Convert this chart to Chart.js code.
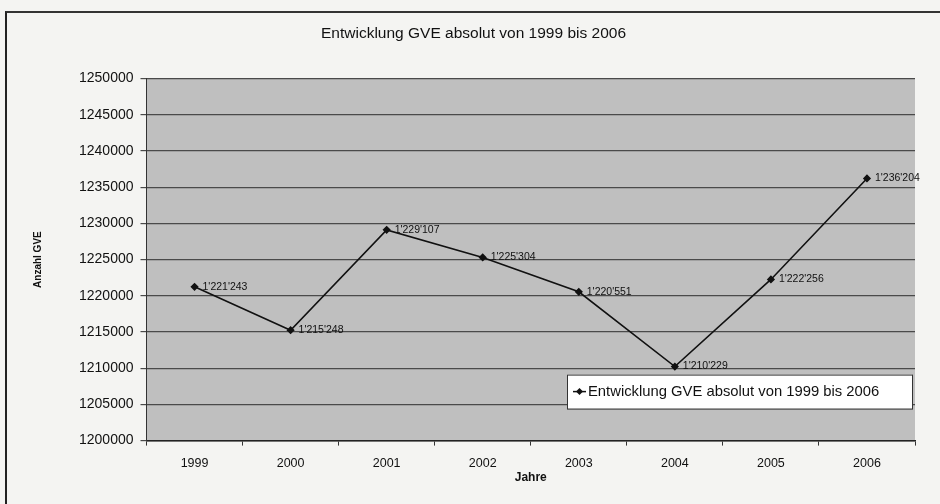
<!DOCTYPE html>
<html>
<head>
<meta charset="utf-8">
<script src="https://cdn.jsdelivr.net/npm/chart.js@4/dist/chart.umd.min.js"></script>
<style>
  html, body { margin: 0; padding: 0; background: #f4f4f2; }
  #wrap { position: relative; width: 940px; height: 504px; }
  #frame { position: absolute; left: 5px; top: 11px; width: 940px; height: 500px;
           border-left: 2px solid #222; border-top: 2px solid #333; box-sizing: border-box; }
  canvas { position: absolute; left: 0; top: 0; }
</style>
</head>
<body>
<div id="wrap">
  <div id="frame"></div>
  <canvas id="c" width="940" height="504"></canvas>
</div>
<script>
// Livestock units (GVE) per year
const years = ['1999', '2000', '2001', '2002', '2003', '2004', '2005', '2006'];
const gve = [1221243, 1215248, 1229107, 1225304, 1220551, 1210229, 1222256, 1236204];
const valueLabels = ["1'221'243", "1'215'248", "1'229'107", "1'225'304", "1'220'551", "1'210'229", "1'222'256", "1'236'204"];
const seriesName = 'Entwicklung GVE absolut von 1999 bis 2006';
const chartTitle = 'Entwicklung GVE absolut von 1999 bis 2006';
const yTitle = 'Anzahl GVE';
const xTitle = 'Jahre';
const yMin = 1200000, yMax = 1250000, yStep = 5000;

const FONT = '"Liberation Sans", Arial, sans-serif';

// grey plot background
const plotBg = {
  id: 'plotBg',
  beforeDraw(chart) {
    const { ctx, chartArea: a } = chart;
    ctx.save();
    ctx.fillStyle = '#bfbfbf';
    ctx.fillRect(a.left, a.top, a.right - a.left, a.bottom - a.top);
    ctx.restore();
  }
};

// value labels to the right of each point
const pointLabels = {
  id: 'pointLabels',
  afterDatasetsDraw(chart) {
    const { ctx } = chart;
    const meta = chart.getDatasetMeta(0);
    ctx.save();
    ctx.font = '10.5px ' + FONT;
    ctx.fillStyle = '#111';
    ctx.textBaseline = 'middle';
    ctx.textAlign = 'left';
    meta.data.forEach((pt, i) => {
      ctx.fillText(valueLabels[i], pt.x + 8, pt.y);
    });
    ctx.restore();
  }
};

// legend box drawn inside the lower right of the plot
const insideLegend = {
  id: 'insideLegend',
  afterDraw(chart) {
    const { ctx, chartArea: a } = chart;
    const ds = chart.data.datasets[0];
    const w = 345, h = 34;
    const x = a.right - 3 - w, y = a.bottom - 32 - h;
    ctx.save();
    ctx.fillStyle = '#ffffff';
    ctx.fillRect(x, y, w, h);
    ctx.strokeStyle = '#333';
    ctx.lineWidth = 1;
    ctx.strokeRect(x + 0.5, y + 0.5, w, h);
    const cy = y + h / 2;
    ctx.strokeStyle = '#111';
    ctx.lineWidth = 1.5;
    ctx.beginPath();
    ctx.moveTo(x + 6, cy);
    ctx.lineTo(x + 19, cy);
    ctx.stroke();
    ctx.fillStyle = '#111';
    ctx.beginPath();
    ctx.moveTo(x + 12.5, cy - 3.5);
    ctx.lineTo(x + 16, cy);
    ctx.lineTo(x + 12.5, cy + 3.5);
    ctx.lineTo(x + 9, cy);
    ctx.closePath();
    ctx.fill();
    ctx.font = '14.8px ' + FONT;
    ctx.textBaseline = 'middle';
    ctx.textAlign = 'left';
    ctx.fillStyle = '#111';
    ctx.fillText(ds.label, x + 21, cy);
    ctx.restore();
  }
};

new Chart(document.getElementById('c'), {
  type: 'line',
  data: {
    labels: years,
    datasets: [{
      label: seriesName,
      data: gve,
      borderColor: '#111',
      borderWidth: 1.6,
      backgroundColor: '#111',
      pointStyle: 'rectRot',
      pointRadius: 3,
      pointBackgroundColor: '#111',
      pointBorderColor: '#111',
      tension: 0,
      fill: false
    }]
  },
  options: {
    responsive: false,
    animation: false,
    devicePixelRatio: 1,
    layout: { padding: { left: 32, right: 25, top: 0, bottom: 19 } },
    plugins: {
      legend: { display: false },
      tooltip: { enabled: false },
      title: {
        display: true,
        text: chartTitle,
        color: '#111',
        font: { family: FONT, size: 15.5, weight: 'normal' },
        padding: { top: 24, bottom: 36 }
      }
    },
    scales: {
      x: {
        type: 'category',
        offset: true,
        grid: {
          display: true,
          offset: true,
          drawOnChartArea: false,
          drawTicks: true,
          tickLength: 5,
          color: '#333'
        },
        border: { display: true, color: '#222', width: 1.5 },
        ticks: {
          color: '#111',
          font: { family: FONT, size: 12.5 },
          padding: 10,
          maxRotation: 0
        },
        title: {
          display: true,
          text: xTitle,
          color: '#111',
          font: { family: FONT, size: 12, weight: 'bold' },
          padding: { top: -10, bottom: 0 }
        }
      },
      y: {
        min: yMin,
        max: yMax,
        grid: {
          color: '#4a4a4a',
          lineWidth: 1.2,
          drawTicks: true,
          tickLength: 6
        },
        border: { display: true, color: '#333', width: 1 },
        ticks: {
          stepSize: yStep,
          color: '#111',
          font: { family: FONT, size: 14 },
          padding: 7,
          callback: (v) => String(v)
        },
        title: {
          display: true,
          text: yTitle,
          color: '#111',
          font: { family: FONT, size: 10, weight: 'bold' },
          padding: { top: 0, bottom: 28 }
        }
      }
    }
  },
  plugins: [plotBg, pointLabels, insideLegend]
});
</script>
</body>
</html>
